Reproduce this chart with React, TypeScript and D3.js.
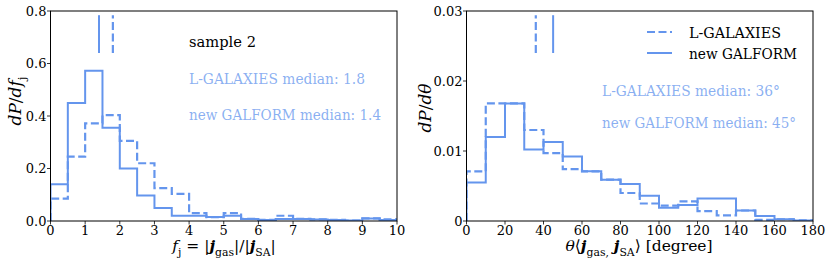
import React, { useRef, useEffect } from "react";
import * as d3 from "d3";

// ---- data ----
// left panel: f_j histogram, bins of 0.5 on [0, 10]
const fjEdges = [0, 0.5, 1, 1.5, 2, 2.5, 3, 3.5, 4, 4.5, 5, 5.5, 6, 6.5, 7, 7.5, 8, 8.5, 9, 9.5, 10];
const fjGalform = [0.14, 0.45, 0.572, 0.355, 0.2, 0.097, 0.05, 0.02, 0.02, 0.015, 0.02, 0.008, 0.004, 0.008, 0.008, 0.006, 0.004, 0.002, 0.01, 0.004];
const fjLgal = [0.085, 0.245, 0.372, 0.403, 0.305, 0.22, 0.125, 0.103, 0.03, 0.015, 0.03, 0.008, 0.004, 0.02, 0.008, 0.006, 0.004, 0.002, 0.01, 0.006];
const fjTicksX = [0, 1, 2, 3, 4, 5, 6, 7, 8, 9, 10];
const fjTicksY = [0, 0.2, 0.4, 0.6, 0.8];
const fjTickLabelsY = ["0.0", "0.2", "0.4", "0.6", "0.8"];
const fjMedians = { lgal: 1.8, galform: 1.4 };

// right panel: angle histogram, bins of 10 deg on [0, 180]
const thEdges = [0, 10, 20, 30, 40, 50, 60, 70, 80, 90, 100, 110, 120, 130, 140, 150, 160, 170, 180];
const thGalform = [0.0055, 0.012, 0.0168, 0.0102, 0.0113, 0.0092, 0.0071, 0.0059, 0.0053, 0.0036, 0.0019, 0.0023, 0.0032, 0.0032, 0.0015, 0.0007, 0.00025, 0.00008];
const thLgal = [0.0071, 0.0168, 0.0168, 0.013, 0.0097, 0.0074, 0.0071, 0.0059, 0.004, 0.0025, 0.0022, 0.0028, 0.0014, 0.0008, 0.0015, 0.00015, 0.00025, 0.00008];
const thTicksX = [0, 20, 40, 60, 80, 100, 120, 140, 160, 180];
const thTicksY = [0, 0.01, 0.02, 0.03];
const thTickLabelsY = ["0", "0.01", "0.02", "0.03"];
const thMedians = { lgal: 36, galform: 45 };

const BLUE = "#6495ED";
const DASH = "8,3.5";
const FONT = "'DejaVu Serif', 'Liberation Serif', serif";

type Panel = {
  left: number;
  right: number;
  edges: number[];
  galform: number[];
  lgal: number[];
  xDomain: [number, number];
  yDomain: [number, number];
  ticksX: number[];
  ticksY: number[];
  tickLabelsY: string[];
  medians: { lgal: number; galform: number };
};

const TOP = 11;
const BOTTOM = 221;

function stepPoints(edges: number[], vals: number[]): [number, number][] {
  const pts: [number, number][] = [[edges[0], 0]];
  vals.forEach((v, i) => {
    pts.push([edges[i], v]);
    pts.push([edges[i + 1], v]);
  });
  pts.push([edges[edges.length - 1], 0]);
  return pts;
}

function drawPanel(svg: d3.Selection<SVGSVGElement, unknown, null, undefined>, p: Panel) {
  const x = d3.scaleLinear().domain(p.xDomain).range([p.left, p.right]);
  const y = d3.scaleLinear().domain(p.yDomain).range([BOTTOM, TOP]);
  const g = svg.append("g");

  const line = d3.line<[number, number]>()
    .x(d => x(d[0]))
    .y(d => y(d[1]));

  const clipId = `clip${Math.round(p.left)}`;
  svg.append("clipPath").attr("id", clipId)
    .append("rect")
    .attr("x", p.left).attr("y", TOP)
    .attr("width", p.right - p.left).attr("height", BOTTOM - TOP);

  // histograms
  g.append("path")
    .attr("d", line(stepPoints(p.edges, p.lgal)))
    .attr("fill", "none")
    .attr("stroke", BLUE)
    .attr("stroke-width", 2.2)
    .attr("stroke-dasharray", DASH)
    .attr("clip-path", `url(#${clipId})`);
  g.append("path")
    .attr("d", line(stepPoints(p.edges, p.galform)))
    .attr("fill", "none")
    .attr("stroke", BLUE)
    .attr("stroke-width", 2)
    .attr("clip-path", `url(#${clipId})`);

  // median markers (axes fraction 0.8 - 0.98)
  const yFrac = (f: number) => BOTTOM - f * (BOTTOM - TOP);
  g.append("line")
    .attr("x1", x(p.medians.lgal)).attr("x2", x(p.medians.lgal))
    .attr("y1", yFrac(0.8)).attr("y2", yFrac(0.98))
    .attr("stroke", BLUE).attr("stroke-width", 2.2)
    .attr("stroke-dasharray", DASH);
  g.append("line")
    .attr("x1", x(p.medians.galform)).attr("x2", x(p.medians.galform))
    .attr("y1", yFrac(0.8)).attr("y2", yFrac(0.98))
    .attr("stroke", BLUE).attr("stroke-width", 2);

  // frame
  g.append("rect")
    .attr("x", p.left).attr("y", TOP)
    .attr("width", p.right - p.left).attr("height", BOTTOM - TOP)
    .attr("fill", "none").attr("stroke", "#000").attr("stroke-width", 1);

  // x ticks
  p.ticksX.forEach(t => {
    g.append("line")
      .attr("x1", x(t)).attr("x2", x(t))
      .attr("y1", BOTTOM).attr("y2", BOTTOM + 3.5)
      .attr("stroke", "#000").attr("stroke-width", 0.8);
    g.append("text")
      .attr("x", x(t)).attr("y", BOTTOM + 13.5)
      .attr("text-anchor", "middle")
      .style("font-size", "13px")
      .style("font-family", FONT)
      .text(String(t));
  });

  // y ticks
  p.ticksY.forEach((t, i) => {
    g.append("line")
      .attr("x1", p.left - 3.5).attr("x2", p.left)
      .attr("y1", y(t)).attr("y2", y(t))
      .attr("stroke", "#000").attr("stroke-width", 0.8);
    g.append("text")
      .attr("x", p.left - 4).attr("y", y(t) + 4.5)
      .attr("text-anchor", "end")
      .style("font-size", "13px")
      .style("font-family", FONT)
      .text(p.tickLabelsY[i]);
  });
}

// text made of (string, style) runs, with sub = subscript
type Run = { s: string; it?: boolean; b?: boolean; sub?: boolean };

function richText(svg: d3.Selection<SVGSVGElement, unknown, null, undefined>, xp: number, yp: number, runs: Run[], size: number, rotate = false) {
  const t = svg.append("text")
    .attr("x", xp).attr("y", yp)
    .attr("text-anchor", "middle")
    .style("font-size", `${size}px`)
    .style("font-family", FONT)
    .attr("fill", "#000");
  if (rotate) t.attr("transform", `rotate(-90 ${xp} ${yp})`);
  let shifted = false;
  runs.forEach(r => {
    const sp = t.append("tspan").text(r.s);
    if (r.it) sp.style("font-style", "italic");
    if (r.b) sp.style("font-weight", "bold");
    if (r.sub && !shifted) { sp.attr("dy", size * 0.3).style("font-size", `${size * 0.7}px`); shifted = true; }
    else if (r.sub) sp.style("font-size", `${size * 0.7}px`);
    else if (!r.sub && shifted) { sp.attr("dy", -size * 0.3); shifted = false; }
  });
}

export default function App() {
  const svgRef = useRef<SVGSVGElement>(null);

  useEffect(() => {
    if (!svgRef.current) return;
    const svg = d3.select(svgRef.current);
    svg.selectAll("*").remove();

    drawPanel(svg, {
      left: 50.5, right: 397, edges: fjEdges, galform: fjGalform, lgal: fjLgal,
      xDomain: [0, 10], yDomain: [0, 0.8], ticksX: fjTicksX, ticksY: fjTicksY,
      tickLabelsY: fjTickLabelsY, medians: fjMedians,
    });
    drawPanel(svg, {
      left: 466.5, right: 813, edges: thEdges, galform: thGalform, lgal: thLgal,
      xDomain: [0, 180], yDomain: [0, 0.03], ticksX: thTicksX, ticksY: thTicksY,
      tickLabelsY: thTickLabelsY, medians: thMedians,
    });

    const txt = (xp: number, yp: number, s: string, color: string, opacity = 1, len = 0) => {
      const t = svg.append("text")
        .attr("x", xp).attr("y", yp)
        .style("font-size", "14.5px")
        .style("font-family", FONT)
        .attr("fill", color)
        .attr("fill-opacity", opacity)
        .text(s);
      if (len) t.attr("textLength", len).attr("lengthAdjust", "spacingAndGlyphs");
      return t;
    };

    // left panel annotations
    txt(189, 47, "sample 2", "#000", 1, 67);
    txt(189, 84, "L-GALAXIES median: 1.8", BLUE, 0.75, 176);
    txt(189, 120, "new GALFORM median: 1.4", BLUE, 0.75, 192);

    // right panel annotations
    txt(602, 96, "L-GALAXIES median: 36°", BLUE, 0.75, 178);
    txt(602, 128, "new GALFORM median: 45°", BLUE, 0.75, 194);

    // legend
    svg.append("line").attr("x1", 647).attr("x2", 672).attr("y1", 32).attr("y2", 32)
      .attr("stroke", BLUE).attr("stroke-width", 2.2).attr("stroke-dasharray", DASH);
    txt(689, 37.5, "L-GALAXIES", "#000", 1, 92);
    svg.append("line").attr("x1", 647).attr("x2", 672).attr("y1", 53).attr("y2", 53)
      .attr("stroke", BLUE).attr("stroke-width", 2);
    txt(689, 59, "new GALFORM", "#000", 1, 108);

    // axis labels
    richText(svg, 224, 251, [
      { s: "f", it: true }, { s: "j", sub: true }, { s: " = |" },
      { s: "j", it: true, b: true }, { s: "gas", sub: true }, { s: "|/|" },
      { s: "j", it: true, b: true }, { s: "SA", sub: true }, { s: "|" },
    ], 15.5);
    richText(svg, 639, 251, [
      { s: "θ", it: true }, { s: "⟨" },
      { s: "j", it: true, b: true }, { s: "gas,", sub: true }, { s: " " },
      { s: "j", it: true, b: true }, { s: "SA", sub: true }, { s: "⟩ [degree]" },
    ], 15.5);
    richText(svg, 21, 101, [
      { s: "dP", it: true }, { s: "/" }, { s: "df", it: true }, { s: "j", sub: true },
    ], 17, true);
    richText(svg, 431, 108, [
      { s: "dP", it: true }, { s: "/" }, { s: "dθ", it: true },
    ], 17, true);
  }, []);

  return (
    <svg ref={svgRef} width={830} height={269}
      style={{ position: "absolute", left: 0, top: 0, background: "#fff" }} />
  );
}
